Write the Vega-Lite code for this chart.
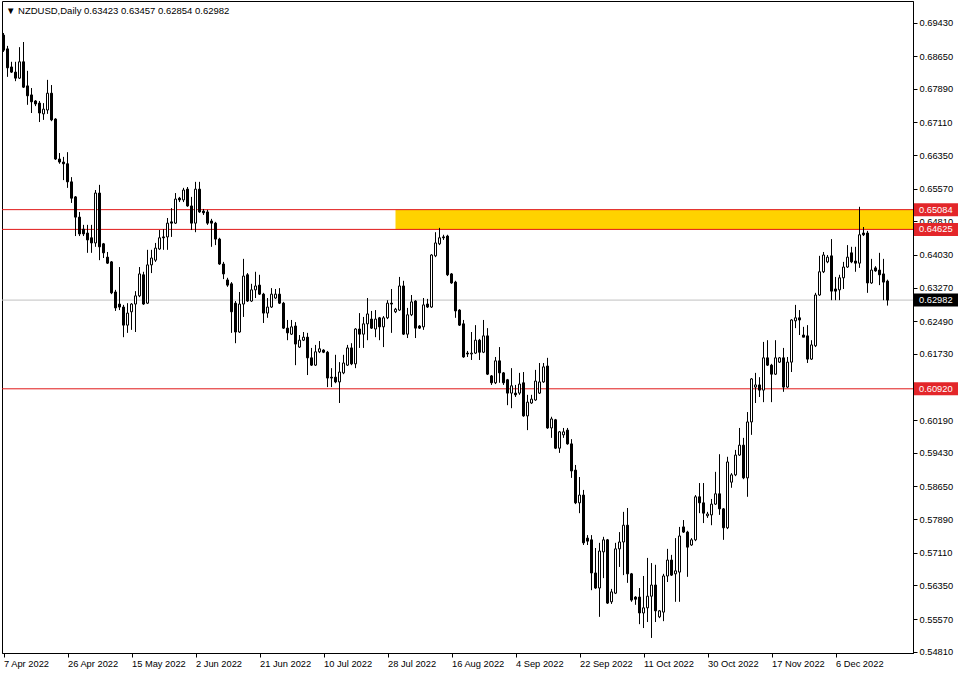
{
  "$schema": "https://vega.github.io/schema/vega-lite/v6.json",
  "width": 911,
  "height": 652,
  "autosize": {"type": "none"},
  "padding": {"left": 2, "top": 1, "right": 47, "bottom": 22},
  "background": "white",
  "title": {
    "text": "▼  NZDUSD,Daily  0.63423 0.63457 0.62854 0.62982",
    "anchor": "start",
    "frame": "group",
    "orient": "top",
    "offset": -9,
    "dx": 4,
    "dy": 10,
    "baseline": "middle",
    "font": "Liberation Sans",
    "fontSize": 9.5,
    "fontWeight": "normal",
    "color": "black"
  },
  "config": {
    "view": {"stroke": "black", "strokeWidth": 1},
    "scale": {"continuousPadding": 0},
    "axis": {
      "domainColor": "black",
      "domainWidth": 1,
      "tickColor": "black",
      "tickSize": 4,
      "labelColor": "black",
      "labelFont": "Liberation Sans",
      "labelFontSize": 9.3,
      "grid": false,
      "labelOverlap": false,
      "labelFlush": false,
      "labelBound": false
    }
  },
  "datasets": {
    "levels": [
      {"p": 0.65084, "kind": "level"},
      {"p": 0.64625, "kind": "level"},
      {"p": 0.6092, "kind": "level"},
      {"p": 0.62982, "kind": "bid"}
    ],
    "zone": [
      {"t1": 98, "t2": 227.375, "p1": 0.64625, "p2": 0.65084}
    ],
    "candles": [
      {"i":0,"o":0.6914,"h":0.6919,"l":0.6875,"c":0.6879},
      {"i":1,"o":0.6882,"h":0.6889,"l":0.6817,"c":0.6838},
      {"i":2,"o":0.6840,"h":0.6852,"l":0.6826,"c":0.6828},
      {"i":3,"o":0.6828,"h":0.6852,"l":0.6807,"c":0.6814},
      {"i":4,"o":0.6814,"h":0.6886,"l":0.6812,"c":0.6852},
      {"i":5,"o":0.6852,"h":0.6898,"l":0.6791,"c":0.6793},
      {"i":6,"o":0.6796,"h":0.6831,"l":0.6752,"c":0.6773},
      {"i":7,"o":0.6775,"h":0.6791,"l":0.6733,"c":0.6759},
      {"i":8,"o":0.6761,"h":0.6763,"l":0.6749,"c":0.6754},
      {"i":9,"o":0.6756,"h":0.6761,"l":0.6712,"c":0.6733},
      {"i":10,"o":0.6731,"h":0.6756,"l":0.6717,"c":0.6742},
      {"i":11,"o":0.6740,"h":0.6810,"l":0.6731,"c":0.6779},
      {"i":12,"o":0.6779,"h":0.6798,"l":0.6714,"c":0.6717},
      {"i":13,"o":0.6719,"h":0.6721,"l":0.6624,"c":0.6626},
      {"i":14,"o":0.6626,"h":0.6640,"l":0.6615,"c":0.6619},
      {"i":15,"o":0.6619,"h":0.6631,"l":0.6577,"c":0.6615},
      {"i":16,"o":0.6615,"h":0.6642,"l":0.6559,"c":0.6573},
      {"i":17,"o":0.6573,"h":0.6584,"l":0.6524,"c":0.6535},
      {"i":18,"o":0.6538,"h":0.6540,"l":0.6447,"c":0.6491},
      {"i":19,"o":0.6491,"h":0.6503,"l":0.6447,"c":0.6452},
      {"i":20,"o":0.6463,"h":0.6473,"l":0.6447,"c":0.6452},
      {"i":21,"o":0.6454,"h":0.6473,"l":0.6408,"c":0.6438},
      {"i":22,"o":0.6443,"h":0.6473,"l":0.6408,"c":0.6431},
      {"i":23,"o":0.6431,"h":0.6554,"l":0.6422,"c":0.6547},
      {"i":24,"o":0.6547,"h":0.6566,"l":0.6391,"c":0.6422},
      {"i":25,"o":0.6429,"h":0.6431,"l":0.6396,"c":0.6408},
      {"i":26,"o":0.6398,"h":0.6410,"l":0.6382,"c":0.6384},
      {"i":27,"o":0.6387,"h":0.6389,"l":0.6312,"c":0.6315},
      {"i":28,"o":0.6317,"h":0.6322,"l":0.6273,"c":0.6280},
      {"i":29,"o":0.6289,"h":0.6375,"l":0.6275,"c":0.6282},
      {"i":30,"o":0.6282,"h":0.6287,"l":0.6212,"c":0.6240},
      {"i":31,"o":0.6240,"h":0.6291,"l":0.6222,"c":0.6268},
      {"i":32,"o":0.6271,"h":0.6291,"l":0.6229,"c":0.6289},
      {"i":33,"o":0.6289,"h":0.6319,"l":0.6224,"c":0.6308},
      {"i":34,"o":0.6308,"h":0.6375,"l":0.6305,"c":0.6359},
      {"i":35,"o":0.6357,"h":0.6364,"l":0.6287,"c":0.6289},
      {"i":36,"o":0.6291,"h":0.6415,"l":0.6289,"c":0.6380},
      {"i":37,"o":0.6380,"h":0.6415,"l":0.6361,"c":0.6396},
      {"i":38,"o":0.6391,"h":0.6431,"l":0.6387,"c":0.6419},
      {"i":39,"o":0.6417,"h":0.6461,"l":0.6415,"c":0.6443},
      {"i":40,"o":0.6445,"h":0.6463,"l":0.6415,"c":0.6443},
      {"i":41,"o":0.6445,"h":0.6489,"l":0.6415,"c":0.6477},
      {"i":42,"o":0.6480,"h":0.6512,"l":0.6445,"c":0.6477},
      {"i":43,"o":0.6477,"h":0.6547,"l":0.6475,"c":0.6533},
      {"i":44,"o":0.6535,"h":0.6538,"l":0.6526,"c":0.6531},
      {"i":45,"o":0.6531,"h":0.6559,"l":0.6526,"c":0.6554},
      {"i":46,"o":0.6556,"h":0.6561,"l":0.6515,"c":0.6517},
      {"i":47,"o":0.6517,"h":0.6538,"l":0.6461,"c":0.6477},
      {"i":48,"o":0.6477,"h":0.6573,"l":0.6456,"c":0.6556},
      {"i":49,"o":0.6556,"h":0.6573,"l":0.6501,"c":0.6503},
      {"i":50,"o":0.6505,"h":0.6510,"l":0.6496,"c":0.6501},
      {"i":51,"o":0.6503,"h":0.6508,"l":0.6473,"c":0.6477},
      {"i":52,"o":0.6482,"h":0.6487,"l":0.6422,"c":0.6477},
      {"i":53,"o":0.6477,"h":0.6480,"l":0.6426,"c":0.6440},
      {"i":54,"o":0.6440,"h":0.6443,"l":0.6380,"c":0.6382},
      {"i":55,"o":0.6382,"h":0.6387,"l":0.6347,"c":0.6359},
      {"i":56,"o":0.6345,"h":0.6350,"l":0.6329,"c":0.6333},
      {"i":57,"o":0.6336,"h":0.6340,"l":0.6222,"c":0.6271},
      {"i":58,"o":0.6291,"h":0.6296,"l":0.6198,"c":0.6224},
      {"i":59,"o":0.6224,"h":0.6317,"l":0.6222,"c":0.6289},
      {"i":60,"o":0.6289,"h":0.6394,"l":0.6259,"c":0.6354},
      {"i":61,"o":0.6357,"h":0.6361,"l":0.6294,"c":0.6296},
      {"i":62,"o":0.6296,"h":0.6336,"l":0.6294,"c":0.6322},
      {"i":63,"o":0.6322,"h":0.6364,"l":0.6303,"c":0.6331},
      {"i":64,"o":0.6333,"h":0.6357,"l":0.6310,"c":0.6312},
      {"i":65,"o":0.6312,"h":0.6315,"l":0.6245,"c":0.6268},
      {"i":66,"o":0.6268,"h":0.6303,"l":0.6257,"c":0.6282},
      {"i":67,"o":0.6282,"h":0.6326,"l":0.6280,"c":0.6312},
      {"i":68,"o":0.6303,"h":0.6324,"l":0.6301,"c":0.6312},
      {"i":69,"o":0.6312,"h":0.6326,"l":0.6289,"c":0.6291},
      {"i":70,"o":0.6291,"h":0.6294,"l":0.6231,"c":0.6233},
      {"i":71,"o":0.6233,"h":0.6252,"l":0.6205,"c":0.6222},
      {"i":72,"o":0.6219,"h":0.6252,"l":0.6217,"c":0.6236},
      {"i":73,"o":0.6238,"h":0.6247,"l":0.6147,"c":0.6196},
      {"i":74,"o":0.6189,"h":0.6217,"l":0.6187,"c":0.6205},
      {"i":75,"o":0.6205,"h":0.6224,"l":0.6203,"c":0.6212},
      {"i":76,"o":0.6212,"h":0.6222,"l":0.6124,"c":0.6164},
      {"i":77,"o":0.6164,"h":0.6187,"l":0.6145,"c":0.6147},
      {"i":78,"o":0.6147,"h":0.6194,"l":0.6145,"c":0.6178},
      {"i":79,"o":0.6178,"h":0.6203,"l":0.6175,"c":0.6185},
      {"i":80,"o":0.6182,"h":0.6184,"l":0.6175,"c":0.6177},
      {"i":81,"o":0.6177,"h":0.6180,"l":0.6096,"c":0.6117},
      {"i":82,"o":0.6119,"h":0.6140,"l":0.6096,"c":0.6117},
      {"i":83,"o":0.6119,"h":0.6171,"l":0.6105,"c":0.6108},
      {"i":84,"o":0.6108,"h":0.6154,"l":0.6059,"c":0.6131},
      {"i":85,"o":0.6129,"h":0.6171,"l":0.6126,"c":0.6152},
      {"i":86,"o":0.6147,"h":0.6194,"l":0.6145,"c":0.6187},
      {"i":87,"o":0.6187,"h":0.6198,"l":0.6147,"c":0.6150},
      {"i":88,"o":0.6150,"h":0.6233,"l":0.6140,"c":0.6231},
      {"i":89,"o":0.6231,"h":0.6268,"l":0.6187,"c":0.6219},
      {"i":90,"o":0.6219,"h":0.6259,"l":0.6187,"c":0.6243},
      {"i":91,"o":0.6243,"h":0.6303,"l":0.6205,"c":0.6266},
      {"i":92,"o":0.6254,"h":0.6273,"l":0.6231,"c":0.6233},
      {"i":93,"o":0.6231,"h":0.6275,"l":0.6212,"c":0.6254},
      {"i":94,"o":0.6257,"h":0.6259,"l":0.6205,"c":0.6236},
      {"i":95,"o":0.6236,"h":0.6261,"l":0.6189,"c":0.6257},
      {"i":96,"o":0.6257,"h":0.6298,"l":0.6254,"c":0.6291},
      {"i":97,"o":0.6291,"h":0.6324,"l":0.6222,"c":0.6289},
      {"i":98,"o":0.6271,"h":0.6280,"l":0.6268,"c":0.6277},
      {"i":99,"o":0.6275,"h":0.6352,"l":0.6273,"c":0.6331},
      {"i":100,"o":0.6331,"h":0.6343,"l":0.6217,"c":0.6219},
      {"i":101,"o":0.6219,"h":0.6280,"l":0.6210,"c":0.6264},
      {"i":102,"o":0.6264,"h":0.6310,"l":0.6261,"c":0.6294},
      {"i":103,"o":0.6296,"h":0.6298,"l":0.6210,"c":0.6233},
      {"i":104,"o":0.6238,"h":0.6240,"l":0.6231,"c":0.6233},
      {"i":105,"o":0.6236,"h":0.6303,"l":0.6229,"c":0.6287},
      {"i":106,"o":0.6289,"h":0.6301,"l":0.6280,"c":0.6282},
      {"i":107,"o":0.6282,"h":0.6405,"l":0.6280,"c":0.6403},
      {"i":108,"o":0.6401,"h":0.6456,"l":0.6398,"c":0.6431},
      {"i":109,"o":0.6429,"h":0.6466,"l":0.6426,"c":0.6443},
      {"i":110,"o":0.6445,"h":0.6450,"l":0.6438,"c":0.6443},
      {"i":111,"o":0.6447,"h":0.6450,"l":0.6354,"c":0.6357},
      {"i":112,"o":0.6359,"h":0.6361,"l":0.6336,"c":0.6338},
      {"i":113,"o":0.6340,"h":0.6343,"l":0.6257,"c":0.6273},
      {"i":114,"o":0.6275,"h":0.6277,"l":0.6238,"c":0.6240},
      {"i":115,"o":0.6243,"h":0.6252,"l":0.6164,"c":0.6166},
      {"i":116,"o":0.6175,"h":0.6180,"l":0.6166,"c":0.6173},
      {"i":117,"o":0.6173,"h":0.6224,"l":0.6159,"c":0.6175},
      {"i":118,"o":0.6175,"h":0.6240,"l":0.6173,"c":0.6205},
      {"i":119,"o":0.6205,"h":0.6208,"l":0.6159,"c":0.6177},
      {"i":120,"o":0.6177,"h":0.6252,"l":0.6175,"c":0.6215},
      {"i":121,"o":0.6215,"h":0.6233,"l":0.6124,"c":0.6126},
      {"i":122,"o":0.6122,"h":0.6124,"l":0.6101,"c":0.6106},
      {"i":123,"o":0.6106,"h":0.6166,"l":0.6103,"c":0.6157},
      {"i":124,"o":0.6157,"h":0.6189,"l":0.6106,"c":0.6129},
      {"i":125,"o":0.6129,"h":0.6131,"l":0.6101,"c":0.6106},
      {"i":126,"o":0.6113,"h":0.6115,"l":0.6054,"c":0.6082},
      {"i":127,"o":0.6082,"h":0.6140,"l":0.6047,"c":0.6099},
      {"i":128,"o":0.6082,"h":0.6101,"l":0.6073,"c":0.6078},
      {"i":129,"o":0.6082,"h":0.6129,"l":0.6078,"c":0.6103},
      {"i":130,"o":0.6106,"h":0.6131,"l":0.6027,"c":0.6029},
      {"i":131,"o":0.6029,"h":0.6078,"l":0.5996,"c":0.6061},
      {"i":132,"o":0.6059,"h":0.6078,"l":0.6057,"c":0.6068},
      {"i":133,"o":0.6066,"h":0.6136,"l":0.6064,"c":0.6110},
      {"i":134,"o":0.6082,"h":0.6152,"l":0.6080,"c":0.6108},
      {"i":135,"o":0.6108,"h":0.6152,"l":0.6106,"c":0.6143},
      {"i":136,"o":0.6145,"h":0.6164,"l":0.5999,"c":0.6001},
      {"i":137,"o":0.6001,"h":0.6027,"l":0.5978,"c":0.6022},
      {"i":138,"o":0.6020,"h":0.6022,"l":0.5952,"c":0.5954},
      {"i":139,"o":0.5954,"h":0.5994,"l":0.5943,"c":0.5992},
      {"i":140,"o":0.5985,"h":0.6001,"l":0.5978,"c":0.5992},
      {"i":141,"o":0.5996,"h":0.6001,"l":0.5962,"c":0.5964},
      {"i":142,"o":0.5964,"h":0.5975,"l":0.5885,"c":0.5901},
      {"i":143,"o":0.5903,"h":0.5915,"l":0.5824,"c":0.5827},
      {"i":144,"o":0.5827,"h":0.5887,"l":0.5803,"c":0.5845},
      {"i":145,"o":0.5845,"h":0.5857,"l":0.5729,"c":0.5734},
      {"i":146,"o":0.5745,"h":0.5752,"l":0.5729,"c":0.5738},
      {"i":147,"o":0.5741,"h":0.5752,"l":0.5624,"c":0.5664},
      {"i":148,"o":0.5664,"h":0.5722,"l":0.5627,"c":0.5629},
      {"i":149,"o":0.5629,"h":0.5734,"l":0.5562,"c":0.5715},
      {"i":150,"o":0.5713,"h":0.5748,"l":0.5652,"c":0.5741},
      {"i":151,"o":0.5741,"h":0.5743,"l":0.5592,"c":0.5594},
      {"i":152,"o":0.5597,"h":0.5627,"l":0.5592,"c":0.5620},
      {"i":153,"o":0.5617,"h":0.5734,"l":0.5615,"c":0.5720},
      {"i":154,"o":0.5720,"h":0.5759,"l":0.5678,"c":0.5736},
      {"i":155,"o":0.5736,"h":0.5806,"l":0.5659,"c":0.5775},
      {"i":156,"o":0.5775,"h":0.5815,"l":0.5641,"c":0.5662},
      {"i":157,"o":0.5662,"h":0.5664,"l":0.5597,"c":0.5601},
      {"i":158,"o":0.5608,"h":0.5610,"l":0.5590,"c":0.5603},
      {"i":159,"o":0.5608,"h":0.5629,"l":0.5545,"c":0.5571},
      {"i":160,"o":0.5571,"h":0.5657,"l":0.5536,"c":0.5583},
      {"i":161,"o":0.5583,"h":0.5699,"l":0.5550,"c":0.5610},
      {"i":162,"o":0.5610,"h":0.5687,"l":0.5513,"c":0.5636},
      {"i":163,"o":0.5636,"h":0.5683,"l":0.5550,"c":0.5576},
      {"i":164,"o":0.5562,"h":0.5578,"l":0.5559,"c":0.5576},
      {"i":165,"o":0.5573,"h":0.5662,"l":0.5552,"c":0.5657},
      {"i":166,"o":0.5657,"h":0.5720,"l":0.5643,"c":0.5694},
      {"i":167,"o":0.5694,"h":0.5706,"l":0.5657,"c":0.5659},
      {"i":168,"o":0.5662,"h":0.5745,"l":0.5597,"c":0.5669},
      {"i":169,"o":0.5666,"h":0.5771,"l":0.5597,"c":0.5750},
      {"i":170,"o":0.5771,"h":0.5787,"l":0.5757,"c":0.5759},
      {"i":171,"o":0.5759,"h":0.5762,"l":0.5655,"c":0.5724},
      {"i":172,"o":0.5729,"h":0.5745,"l":0.5727,"c":0.5741},
      {"i":173,"o":0.5741,"h":0.5845,"l":0.5738,"c":0.5841},
      {"i":174,"o":0.5841,"h":0.5873,"l":0.5803,"c":0.5827},
      {"i":175,"o":0.5827,"h":0.5873,"l":0.5780,"c":0.5803},
      {"i":176,"o":0.5797,"h":0.5806,"l":0.5792,"c":0.5801},
      {"i":177,"o":0.5799,"h":0.5836,"l":0.5775,"c":0.5824},
      {"i":178,"o":0.5824,"h":0.5899,"l":0.5822,"c":0.5848},
      {"i":179,"o":0.5848,"h":0.5940,"l":0.5799,"c":0.5813},
      {"i":180,"o":0.5813,"h":0.5815,"l":0.5741,"c":0.5769},
      {"i":181,"o":0.5769,"h":0.5934,"l":0.5766,"c":0.5922},
      {"i":182,"o":0.5875,"h":0.5896,"l":0.5862,"c":0.5892},
      {"i":183,"o":0.5892,"h":0.5950,"l":0.5889,"c":0.5938},
      {"i":184,"o":0.5938,"h":0.6001,"l":0.5936,"c":0.5961},
      {"i":185,"o":0.5961,"h":0.5978,"l":0.5882,"c":0.5885},
      {"i":186,"o":0.5885,"h":0.6038,"l":0.5841,"c":0.6015},
      {"i":187,"o":0.6015,"h":0.6117,"l":0.5985,"c":0.6115},
      {"i":188,"o":0.6096,"h":0.6129,"l":0.6059,"c":0.6101},
      {"i":189,"o":0.6101,"h":0.6119,"l":0.6073,"c":0.6089},
      {"i":190,"o":0.6089,"h":0.6201,"l":0.6061,"c":0.6164},
      {"i":191,"o":0.6164,"h":0.6205,"l":0.6145,"c":0.6147},
      {"i":192,"o":0.6147,"h":0.6150,"l":0.6061,"c":0.6126},
      {"i":193,"o":0.6126,"h":0.6205,"l":0.6124,"c":0.6164},
      {"i":194,"o":0.6154,"h":0.6166,"l":0.6152,"c":0.6164},
      {"i":195,"o":0.6164,"h":0.6187,"l":0.6085,"c":0.6096},
      {"i":196,"o":0.6096,"h":0.6166,"l":0.6094,"c":0.6154},
      {"i":197,"o":0.6154,"h":0.6254,"l":0.6131,"c":0.6252},
      {"i":198,"o":0.6250,"h":0.6287,"l":0.6233,"c":0.6257},
      {"i":199,"o":0.6257,"h":0.6275,"l":0.6217,"c":0.6252},
      {"i":200,"o":0.6217,"h":0.6236,"l":0.6212,"c":0.6212},
      {"i":201,"o":0.6215,"h":0.6240,"l":0.6152,"c":0.6161},
      {"i":202,"o":0.6161,"h":0.6205,"l":0.6159,"c":0.6194},
      {"i":203,"o":0.6192,"h":0.6315,"l":0.6189,"c":0.6310},
      {"i":204,"o":0.6310,"h":0.6401,"l":0.6308,"c":0.6364},
      {"i":205,"o":0.6364,"h":0.6410,"l":0.6361,"c":0.6403},
      {"i":206,"o":0.6387,"h":0.6403,"l":0.6384,"c":0.6398},
      {"i":207,"o":0.6401,"h":0.6440,"l":0.6298,"c":0.6319},
      {"i":208,"o":0.6324,"h":0.6352,"l":0.6298,"c":0.6319},
      {"i":209,"o":0.6322,"h":0.6357,"l":0.6298,"c":0.6350},
      {"i":210,"o":0.6350,"h":0.6387,"l":0.6324,"c":0.6375},
      {"i":211,"o":0.6375,"h":0.6426,"l":0.6373,"c":0.6398},
      {"i":212,"o":0.6408,"h":0.6422,"l":0.6384,"c":0.6387},
      {"i":213,"o":0.6389,"h":0.6422,"l":0.6364,"c":0.6384},
      {"i":214,"o":0.6384,"h":0.6515,"l":0.6373,"c":0.6450},
      {"i":215,"o":0.6454,"h":0.6468,"l":0.6447,"c":0.6450},
      {"i":216,"o":0.6454,"h":0.6459,"l":0.6315,"c":0.6338},
      {"i":217,"o":0.6338,"h":0.6394,"l":0.6336,"c":0.6368},
      {"i":218,"o":0.6373,"h":0.6377,"l":0.6364,"c":0.6366},
      {"i":219,"o":0.6368,"h":0.6408,"l":0.6333,"c":0.6357},
      {"i":220,"o":0.6359,"h":0.6394,"l":0.6298,"c":0.6340},
      {"i":221,"o":0.63423,"h":0.63457,"l":0.62854,"c":0.62982}
    ]
  },
  "layer": [
    {
      "data": {"name": "zone"},
      "mark": {"type": "rect", "color": "#ffd200"},
      "encoding": {
        "x": {
          "field": "t1", "type": "quantitative", "title": null,
          "scale": {"domain": [-0.375, 227.375], "nice": false, "zero": false, "padding": 0},
          "axis": {
            "orient": "bottom",
            "title": null,
            "values": [0, 16, 32, 48, 64, 80, 96, 112, 128, 144, 160, 176, 192, 208],
            "tickCount": 100,
            "labelExpr": "['7 Apr 2022','26 Apr 2022','15 May 2022','2 Jun 2022','21 Jun 2022','10 Jul 2022','28 Jul 2022','16 Aug 2022','4 Sep 2022','22 Sep 2022','11 Oct 2022','30 Oct 2022','17 Nov 2022','6 Dec 2022'][round(datum.value / 16)]",
            "labelAlign": "left",
            "labelBaseline": "top",
            "labelPadding": 2,
            "labelDx": 0,
            "labelOverlap": false
          }
        },
        "x2": {"field": "t2"},
        "y": {
          "field": "p1", "type": "quantitative", "title": null,
          "scale": {"domain": [0.5478, 0.69933], "nice": false, "zero": false},
          "axis": {
            "orient": "right",
            "title": null,
            "values": [0.5481, 0.5557, 0.5635, 0.5711, 0.5789, 0.5865, 0.5943, 0.6019, 0.6097, 0.6173, 0.6249, 0.6327, 0.6403, 0.6481, 0.6557, 0.6635, 0.6711, 0.6789, 0.6865, 0.6943],
            "tickCount": 100,
            "format": ".5f",
            "labelAlign": "left",
            "labelBaseline": "middle",
            "labelPadding": 2,
            "labelOverlap": false
          }
        },
        "y2": {"field": "p2"}
      }
    },
    {
      "data": {"name": "levels"},
      "mark": {"type": "rule", "strokeWidth": 1},
      "encoding": {
        "y": {"field": "p", "type": "quantitative", "title": null},
        "color": {"condition": {"test": "datum.kind == 'bid'", "value": "#c0c0c0"}, "value": "#e01818"}
      }
    },
    {
      "data": {"name": "candles"},
      "mark": {"type": "rule", "color": "black", "strokeWidth": 1},
      "encoding": {
        "x": {"field": "i", "type": "quantitative", "title": null},
        "y": {"field": "l", "type": "quantitative", "title": null},
        "y2": {"field": "h"}
      }
    },
    {
      "data": {"name": "candles"},
      "mark": {"type": "bar", "width": 2, "stroke": "black", "strokeWidth": 1},
      "encoding": {
        "x": {"field": "i", "type": "quantitative", "title": null},
        "y": {"field": "o", "type": "quantitative", "title": null},
        "y2": {"field": "c"},
        "fill": {"condition": {"test": "datum.c >= datum.o", "value": "white"}, "value": "black"}
      }
    },
    {
      "data": {"name": "levels"},
      "mark": {"type": "tick", "orient": "horizontal", "x": "width", "xOffset": 23, "size": 44, "thickness": 13, "opacity": 1},
      "encoding": {
        "y": {"field": "p", "type": "quantitative", "title": null},
        "color": {"condition": {"test": "datum.kind == 'bid'", "value": "#000000"}, "value": "#e3262a"}
      }
    },
    {
      "data": {"name": "levels"},
      "mark": {"type": "text", "x": "width", "dx": 6, "align": "left", "baseline": "middle", "color": "white", "font": "Liberation Sans", "fontSize": 9.3},
      "encoding": {
        "y": {"field": "p", "type": "quantitative", "title": null},
        "text": {"field": "p", "type": "quantitative", "format": ".5f"}
      }
    }
  ]
}
